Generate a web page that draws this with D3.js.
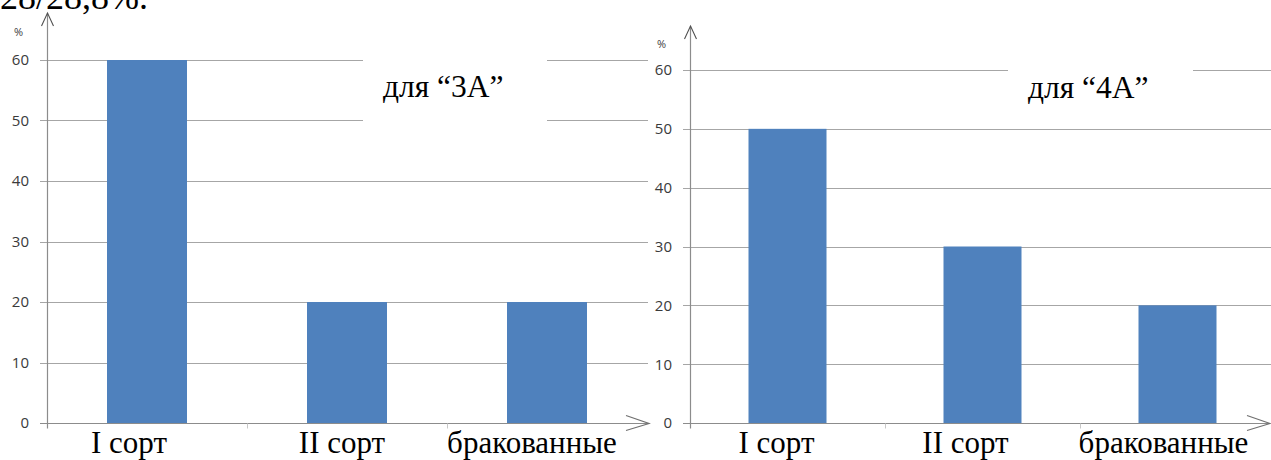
<!DOCTYPE html>
<html>
<head>
<meta charset="utf-8">
<script src="https://cdn.jsdelivr.net/npm/d3@7"></script>
<style>
  html, body { margin: 0; padding: 0; background: #fff; }
  svg { display: block; }
</style>
</head>
<body>
<svg id="chart" width="1271" height="460"></svg>
<script>
// Sorting results of two classes, percent of items per grade
const categories = ["I сорт", "II сорт", "бракованные"];
const values3A = [60, 20, 20];
const values4A = [50, 30, 20];
const yTicks = [0, 10, 20, 30, 40, 50, 60];
const titles = ["для “3А”", "для “4А”"];
const unitLabel = "%";
const headerText = "28/28,8%.";

const svg = d3.select("#chart");
const serif = "'Liberation Serif', 'Times New Roman', serif";
const sans = "'Open Sans', 'Liberation Sans', Arial, sans-serif";
const barColor = "#4f81bd";
const gridColor = "#a6a6a6";
const axisColor = "#8c8c8c";

// tail of the preceding paragraph, clipped by the top edge
svg.append("text")
  .attr("x", 0).attr("y", 9)
  .attr("font-family", serif).attr("font-size", 36)
  .attr("fill", "#000")
  .text(headerText);

const panels = [
  {
    values: values3A, title: titles[0],
    x0: 47, x1: 647, yTop: 60, yZero: 423,
    gridStart: 40, gridEnd: 648,
    gap: [363, 547], gapTicks: [60, 50],
    arrowTipY: 13, xArrowTip: 649,
    titleX: 383, titleY: 97,
    unitY: 32, labelRight: 29,
    labelDx: [-18, -5, -15]
  },
  {
    values: values4A, title: titles[1],
    x0: 690, x1: 1275, yTop: 70, yZero: 423,
    gridStart: 683, gridEnd: 1271,
    gap: [1008, 1193], gapTicks: [60],
    arrowTipY: 26, xArrowTip: 1270,
    titleX: 1028, titleY: 98,
    unitY: 44, labelRight: 672,
    labelDx: [-11, -17, -14]
  }
];

panels.forEach(p => {
  const g = svg.append("g");

  const y = d3.scaleLinear().domain([0, 60]).range([p.yZero, p.yTop]);
  const x = d3.scaleBand()
    .domain(categories)
    .range([p.x0, p.x1])
    .paddingInner(0.6)
    .paddingOuter(0.3);

  // horizontal gridlines (the top lines are interrupted by the title box)
  yTicks.filter(t => t > 0).forEach(t => {
    const yy = Math.round(y(t)) + 0.5;
    const segs = p.gapTicks.includes(t)
      ? [[p.gridStart, p.gap[0]], [p.gap[1], p.gridEnd]]
      : [[p.gridStart, p.gridEnd]];
    segs.forEach(([a, b]) => {
      g.append("line")
        .attr("x1", a).attr("x2", b)
        .attr("y1", yy).attr("y2", yy)
        .attr("stroke", gridColor).attr("stroke-width", 1.2);
    });
  });

  // y tick labels
  g.selectAll("text.ytick")
    .data(yTicks)
    .join("text")
    .attr("class", "ytick")
    .attr("x", p.labelRight)
    .attr("y", d => y(d))
    .attr("dy", "0.36em")
    .attr("text-anchor", "end")
    .attr("font-family", sans)
    .attr("font-size", 15)
    .attr("fill", "#3a3a3a")
    .text(d => d);

  // unit label
  g.append("text")
    .attr("x", p.labelRight - 6).attr("y", p.unitY)
    .attr("dy", "0.35em")
    .attr("text-anchor", "end")
    .attr("font-family", sans).attr("font-size", 11)
    .attr("fill", "#404040")
    .text(unitLabel);

  // bars
  g.selectAll("rect.bar")
    .data(p.values)
    .join("rect")
    .attr("class", "bar")
    .attr("x", (d, i) => x(categories[i]))
    .attr("width", x.bandwidth())
    .attr("y", d => y(d))
    .attr("height", d => y(0) - y(d))
    .attr("fill", barColor);

  // x axis with category separators
  const zy = Math.round(y(0)) + 0.5;
  g.append("line")
    .attr("x1", p.gridStart).attr("x2", p.xArrowTip)
    .attr("y1", zy).attr("y2", zy)
    .attr("stroke", axisColor).attr("stroke-width", 1.2);
  categories.slice(1).forEach(c => {
    const bx = Math.round(x(c) - x.step() * x.paddingInner() / 2) + 0.5;
    g.append("line")
      .attr("x1", bx).attr("x2", bx)
      .attr("y1", zy).attr("y2", zy + 5)
      .attr("stroke", "#c8c8c8");
  });

  // arrow head on x axis
  g.append("path")
    .attr("d", `M${p.xArrowTip - 23},${zy - 8} L${p.xArrowTip},${zy} L${p.xArrowTip - 23},${zy + 7}`)
    .attr("fill", "none").attr("stroke", "#707070").attr("stroke-width", 1.2);

  // y axis with arrow
  const ax = p.x0 + 0.5;
  g.append("line")
    .attr("x1", ax).attr("x2", ax)
    .attr("y1", p.arrowTipY).attr("y2", zy + 5)
    .attr("stroke", axisColor).attr("stroke-width", 1.2);
  g.append("path")
    .attr("d", `M${ax - 6},${p.arrowTipY + 13} L${ax},${p.arrowTipY} L${ax + 6},${p.arrowTipY + 13}`)
    .attr("fill", "none").attr("stroke", "#505050").attr("stroke-width", 1.1);

  // category labels
  g.selectAll("text.cat")
    .data(categories)
    .join("text")
    .attr("class", "cat")
    .attr("x", (d, i) => x(d) + x.bandwidth() / 2 + p.labelDx[i])
    .attr("y", 453)
    .attr("text-anchor", "middle")
    .attr("font-family", serif)
    .attr("font-size", 31)
    .attr("fill", "#000")
    .text(d => d);

  // chart title
  g.append("text")
    .attr("x", p.titleX).attr("y", p.titleY)
    .attr("font-family", serif)
    .attr("font-size", 31.5)
    .attr("fill", "#000")
    .text(p.title);
});
</script>
</body>
</html>
